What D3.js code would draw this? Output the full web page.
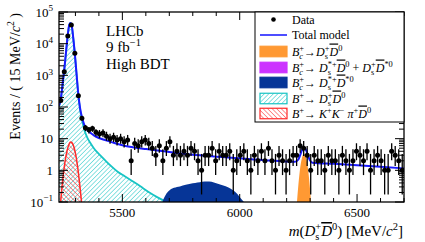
<!DOCTYPE html>
<head>
<meta charset="utf-8">
<script src="https://d3js.org/d3.v7.min.js"></script>
<style>
  body { margin: 0; background: #fff; }
  text { font-family: "Liberation Serif", "Times New Roman", serif; fill: #000; }
</style>
</head>
<body>
<svg width="425" height="242"></svg>
<script>
// ---- data ----
var massRange = [5230, 6700];
var binWidth = 15;
var counts = [160, 1300, 17500, 39000, 5000, 225, 44,
  22, 19, 21, 16, 14, 15, 12, 10, 11, 9, 10, 8, 9, 2, 7, 6, 8, 9, 7, 5, 3, 6, 2, 5, 8, 3,
  4, 3, 4, 3, 5, 4, 2, 1, 3, 3, 5, 2, 4, 3, 3, 4, 1, 2,
  3, 4, 2, 1, 3, 2, 4, 2, 5, 2, 1, 3, 2, 1, 2, 3, 3, 6, 5, 3, 1, 3, 2, 2, 1, 3, 2, 2, 1,
  3, 2, 1, 2, 4, 3, 2, 4, 1, 2, 3, 2, 1, 1, 4, 3, 2, 1];

var totalMass = [5230, 5237, 5245, 5252, 5260, 5267, 5274, 5279, 5284, 5290, 5297, 5304, 5312, 5320, 5330, 5340, 5350, 5365, 5380, 5400, 5430, 5460, 5500, 5550, 5600, 5650, 5700, 5750, 5800, 5850, 5900, 5950, 6000, 6050, 6100, 6150, 6200, 6235, 6250, 6258, 6266, 6274, 6282, 6290, 6298, 6310, 6400, 6500, 6600, 6700];
var totalVal  = [110, 170, 500, 1400, 5500, 18000, 40000, 45000, 38000, 17000, 5200, 1300, 270, 90, 42, 25, 19, 15, 12.5, 10.5, 8.8, 7.5, 6.2, 5.3, 4.7, 4.2, 3.8, 3.4, 3.1, 2.9, 2.7, 2.55, 2.4, 2.25, 2.1, 2.0, 1.9, 1.85, 2.2, 3.1, 4.45, 5.25, 4.45, 3.1, 2.15, 1.75, 1.6, 1.45, 1.3, 1.15];

var bpMass = [5230, 5237, 5245, 5252, 5260, 5267, 5274, 5279, 5284, 5290, 5297, 5304, 5312, 5320, 5330, 5340, 5350, 5365, 5380, 5405, 5430, 5450, 5480, 5510, 5540, 5575, 5610, 5650, 5690];
var bpVal  = [105, 165, 490, 1370, 5400, 17700, 39500, 44500, 37500, 16700, 5100, 1270, 255, 80, 33, 17, 11, 7, 4.8, 3.0, 1.95, 1.4, 0.9, 0.65, 0.47, 0.32, 0.21, 0.14, 0.1];

var kkpiMass = [5237, 5245, 5255, 5265, 5275, 5281, 5290, 5300, 5310, 5320, 5326];
var kkpiVal  = [0.1, 0.44, 1.74, 4.4, 7.2, 7.8, 6.5, 3.5, 1.2, 0.27, 0.1];

var sigMass = [6244, 6250, 6258, 6266, 6274, 6282, 6290, 6298, 6304];
var sigVal  = [0.1, 0.35, 1.25, 2.6, 3.4, 2.6, 1.25, 0.35, 0.1];

var ssMass = [5670, 5685, 5700, 5720, 5745, 5770, 5790, 5810, 5830, 5850, 5870, 5890, 5910, 5930, 5950, 5970, 5990, 6005, 6018];
var ssVal  = [0.1, 0.17, 0.23, 0.28, 0.31, 0.35, 0.38, 0.4, 0.42, 0.44, 0.44, 0.41, 0.37, 0.33, 0.29, 0.24, 0.18, 0.13, 0.1];

var xTickLabels = ["5500", "6000", "6500"];
var yTickLabels = [["10", "5"], ["10", "4"], ["10", "3"], ["10", "2"], ["10", ""], ["1", ""], ["10", "\u22121"]];

// 68% Poisson intervals for small counts
var poisLo = [0, 0.173, 0.708, 1.367, 2.086, 2.840, 3.620, 4.419, 5.232, 6.057, 6.891, 7.734, 8.585, 9.441, 10.30, 11.17];
var poisHi = [1.84, 3.300, 4.638, 5.918, 7.163, 8.382, 9.584, 10.77, 11.95, 13.11, 14.27, 15.42, 16.56, 17.70, 18.83, 19.96];

// ---- layout ----
var L = 59, R = 404, T = 12, B = 202;
var svg = d3.select("svg");
var x = d3.scaleLinear().domain(massRange).range([L, R]);
var y = d3.scaleLog().domain([0.1, 1e5]).range([B, T]);

var defs = svg.append("defs");
defs.append("clipPath").attr("id", "plot")
  .append("rect").attr("x", L).attr("y", T).attr("width", R - L).attr("height", B - T);

function hatch(id, color, angle) {
  var p = defs.append("pattern").attr("id", id)
    .attr("patternUnits", "userSpaceOnUse").attr("width", 3.2).attr("height", 3.2)
    .attr("patternTransform", "rotate(" + angle + ")");
  p.append("line").attr("x1", 0).attr("y1", -1).attr("x2", 0).attr("y2", 5)
    .attr("stroke", color).attr("stroke-width", 1);
}
hatch("hCyan", "#18c4c4", 45);
hatch("hRed", "#ff2a2a", -45);

// rich text helper: s flags  i=italic ^=sup _=sub o=overline b=stack under previous
function rich(g, px, py, parts, size, anchor) {
  var t = g.append("text").attr("x", px).attr("y", py).style("font-size", size + "px");
  if (anchor) t.attr("text-anchor", anchor);
  var cur = 0, prev = null;
  parts.forEach(function(p) {
    var s = p.s || "", fs = size, off = 0;
    if (s.indexOf("^") >= 0) { fs = size * 0.7; off = -size * 0.4; }
    if (s.indexOf("_") >= 0) { fs = size * 0.7; off = size * 0.25; }
    var ts = t.append("tspan").text(p.t).attr("dy", off - cur).style("font-size", fs + "px");
    if (s.indexOf("i") >= 0) ts.style("font-style", "italic");
    if (s.indexOf("o") >= 0) ts.style("text-decoration", "overline");
    if (s.indexOf("b") >= 0 && prev) ts.attr("dx", -prev.node().getComputedTextLength());
    cur = off; prev = ts;
  });
  return t;
}

var plot = svg.append("g").attr("clip-path", "url(#plot)");

function pts(ms, vs) { return ms.map(function(m, i) { return [m, vs[i]]; }); }
var area = d3.area().curve(d3.curveMonotoneX)
  .x(function(d) { return x(d[0]); }).y0(B + 2).y1(function(d) { return y(d[1]); });
var line = d3.line().curve(d3.curveMonotoneX)
  .x(function(d) { return x(d[0]); }).y(function(d) { return y(d[1]); });

// B+ -> Ds D0 (cyan hatched)
plot.append("path").datum(pts(bpMass, bpVal)).attr("d", area)
  .attr("fill", "url(#hCyan)").attr("stroke", "none");
plot.append("path").datum(pts(bpMass, bpVal)).attr("d", line)
  .attr("fill", "none").attr("stroke", "#18c4c4").attr("stroke-width", 1.8);
// B+ -> K K pi D0 (red hatched)
plot.append("path").datum(pts(kkpiMass, kkpiVal)).attr("d", area)
  .attr("fill", "url(#hRed)").attr("stroke", "#ff2a2a").attr("stroke-width", 1.5);
// Bc -> Ds* D*0
plot.append("path").datum(pts(ssMass, ssVal)).attr("d", area)
  .attr("fill", "#063597").attr("stroke", "none");
// Bc -> Ds D0 signal
plot.append("path").datum(pts(sigMass, sigVal)).attr("d", area)
  .attr("fill", "#ff9933").attr("stroke", "none");
// total model
plot.append("path").datum(pts(totalMass, totalVal)).attr("d", line)
  .attr("fill", "none").attr("stroke", "#1a1aff").attr("stroke-width", 2);

// data points
var bins = counts.map(function(c, i) {
  var m = massRange[0] + binWidth * (i + 0.5);
  var lo = c < poisLo.length ? poisLo[c] : c - Math.sqrt(c);
  var hi = c < poisHi.length ? poisHi[c] : c + Math.sqrt(c);
  return { m: m, c: c, lo: Math.max(lo, 0.01), hi: hi };
}).filter(function(d) { return d.c > 0; });

var pg = plot.append("g").attr("stroke", "#000").attr("stroke-width", 1.3);
pg.selectAll("line.v").data(bins).enter().append("line")
  .attr("x1", function(d) { return x(d.m); }).attr("x2", function(d) { return x(d.m); })
  .attr("y1", function(d) { return y(d.lo); }).attr("y2", function(d) { return y(d.hi); });
pg.selectAll("line.h").data(bins).enter().append("line")
  .attr("x1", function(d) { return x(d.m - binWidth / 2); }).attr("x2", function(d) { return x(d.m + binWidth / 2); })
  .attr("y1", function(d) { return y(d.c); }).attr("y2", function(d) { return y(d.c); });
plot.selectAll("circle").data(bins).enter().append("circle")
  .attr("cx", function(d) { return x(d.m); }).attr("cy", function(d) { return y(d.c); })
  .attr("r", 2.5).attr("fill", "#000");

// frame and ticks
var axes = svg.append("g").attr("stroke", "#000").attr("stroke-width", 1);
y.ticks().forEach(function(v) {
  var major = Math.abs(Math.log10(v) - Math.round(Math.log10(v))) < 1e-6;
  var len = major ? 9 : 5;
  axes.append("line").attr("x1", L).attr("x2", L + len).attr("y1", y(v)).attr("y2", y(v));
  axes.append("line").attr("x1", R).attr("x2", R - len).attr("y1", y(v)).attr("y2", y(v));
});
d3.range(5300, 6701, 100).forEach(function(m) {
  var len = m % 500 === 0 ? 8 : 4;
  axes.append("line").attr("x1", x(m)).attr("x2", x(m)).attr("y1", B).attr("y2", B - len);
  axes.append("line").attr("x1", x(m)).attr("x2", x(m)).attr("y1", T).attr("y2", T + len);
});
svg.append("rect").attr("x", L).attr("y", T).attr("width", R - L).attr("height", B - T)
  .attr("fill", "none").attr("stroke", "#000").attr("stroke-width", 1.3);

// tick labels
var yDecades = [1e5, 1e4, 1e3, 1e2, 10, 1, 0.1];
yTickLabels.forEach(function(lab, i) {
  var parts = [{ t: lab[0] }];
  if (lab[1]) parts.push({ t: lab[1], s: "^" });
  rich(svg, 53, y(yDecades[i]) + 4.5, parts, 13, "end");
});
xTickLabels.forEach(function(lab) {
  svg.append("text").attr("x", x(+lab)).attr("y", 217).attr("text-anchor", "middle")
    .style("font-size", "13px").text(lab);
});

// axis titles
var yt = svg.append("g").attr("transform", "translate(20,13) rotate(-90)");
rich(yt, 0, 0, [{ t: "Events / ( 15 MeV/" }, { t: "c", s: "i" }, { t: "2", s: "^" }, { t: " )", s: "" }], 14, "end");
rich(svg, 403, 236, [{ t: "m", s: "i" }, { t: "(" }, { t: "D", s: "i" }, { t: "s", s: "_" }, { t: "+", s: "^b" },
  { t: "D", s: "io" }, { t: "0", s: "^" }, { t: ") [MeV/" }, { t: "c", s: "i" }, { t: "2", s: "^" }, { t: "]" }], 15, "end");

// LHCb label
svg.append("text").attr("x", 106).attr("y", 36).style("font-size", "15px").text("LHCb");
rich(svg, 106, 52, [{ t: "9 fb" }, { t: "\u22121", s: "^" }], 15);
svg.append("text").attr("x", 106).attr("y", 69).style("font-size", "15px").text("High BDT");

// legend
var lg = svg.append("g");
lg.append("rect").attr("x", 255).attr("y", T).attr("width", R - 255).attr("height", 110)
  .attr("fill", "#fff").attr("stroke", "#000").attr("stroke-width", 1);
var ly = [19.5, 35, 51.5, 67.5, 82.5, 98.5, 113.5];
var bx = 260, bw = 27, bh = 10.5, tx = 292, fsz = 12;
lg.append("circle").attr("cx", bx + bw / 2).attr("cy", ly[0]).attr("r", 2.3).attr("fill", "#000");
lg.append("line").attr("x1", bx).attr("x2", bx + bw).attr("y1", ly[1]).attr("y2", ly[1])
  .attr("stroke", "#4d4dff").attr("stroke-width", 2);
var boxFill = ["#ff9933", "#cc33ff", "#063597", "url(#hCyan)", "url(#hRed)"];
var boxStroke = ["#ff9933", "#cc33ff", "#063597", "#18c4c4", "#ff2a2a"];
boxFill.forEach(function(f, i) {
  lg.append("rect").attr("x", bx).attr("y", ly[i + 2] - bh / 2).attr("width", bw).attr("height", bh)
    .attr("fill", f).attr("stroke", boxStroke[i]).attr("stroke-width", 1.2);
});
var labels = [
  [{ t: "Data" }],
  [{ t: "Total model" }],
  [{ t: "B", s: "i" }, { t: "c", s: "_i" }, { t: "+", s: "^b" }, { t: "\u2192" }, { t: "D", s: "i" }, { t: "s", s: "_" }, { t: "+", s: "^b" }, { t: "D", s: "io" }, { t: "0", s: "^" }],
  [{ t: "B", s: "i" }, { t: "c", s: "_i" }, { t: "+", s: "^b" }, { t: "\u2192 " }, { t: "D", s: "i" }, { t: "s", s: "_" }, { t: "*+", s: "^b" }, { t: "D", s: "io" }, { t: "0", s: "^" }, { t: " + " }, { t: "D", s: "i" }, { t: "s", s: "_" }, { t: "+", s: "^b" }, { t: "D", s: "io" }, { t: "*0", s: "^" }],
  [{ t: "B", s: "i" }, { t: "c", s: "_i" }, { t: "+", s: "^b" }, { t: "\u2192 " }, { t: "D", s: "i" }, { t: "s", s: "_" }, { t: "*+", s: "^b" }, { t: "D", s: "io" }, { t: "*0", s: "^" }],
  [{ t: "B", s: "i" }, { t: "+", s: "^" }, { t: "\u2192 " }, { t: "D", s: "i" }, { t: "s", s: "_" }, { t: "+", s: "^b" }, { t: "D", s: "io" }, { t: "0", s: "^" }],
  [{ t: "B", s: "i" }, { t: "+", s: "^" }, { t: "\u2192 " }, { t: "K", s: "i" }, { t: "+", s: "^" }, { t: "K", s: "i" }, { t: "\u2212", s: "^" }, { t: " \u03c0", s: "i" }, { t: "+", s: "^" }, { t: "D", s: "io" }, { t: "0", s: "^" }]
];
labels.forEach(function(p, i) { rich(lg, tx, ly[i] + 4, p, fsz); });
</script>
</body>
</html>
